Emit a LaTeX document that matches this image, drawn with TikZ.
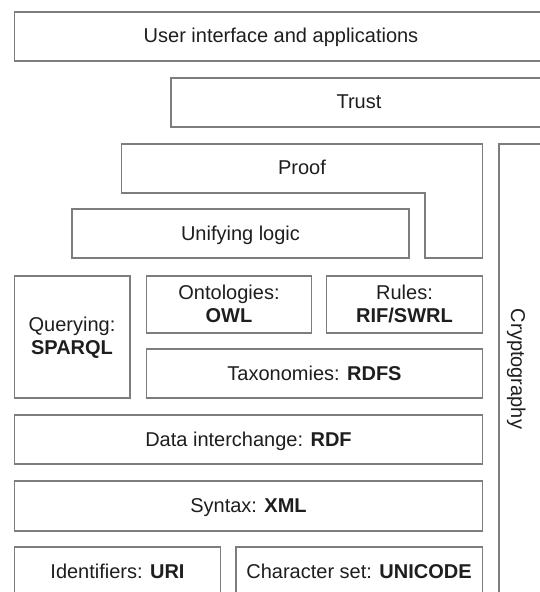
\documentclass[tikz,border=0pt]{standalone}
\usepackage{fontspec}
\setmainfont{Liberation Sans}
\definecolor{edge}{RGB}{125,125,125}
\definecolor{ink}{RGB}{30,30,30}
\begin{document}
\begin{tikzpicture}[x=1pt,y=-1pt,
  box/.style={draw=edge, line width=1.2pt, fill=white},
  lbl/.style={font=\fontsize{20}{23.5}\selectfont, text=ink, inner sep=0pt, anchor=base, align=center}]
\useasboundingbox (0,0) rectangle (540,592);
\clip (0,0) rectangle (540,592);
% top layers
\draw[box] (14.5,12) rectangle (547,61);
\node[lbl] (ui) at (281,42.5) {User interface and applications};
\draw[box] (171,78) rectangle (547,127);
\node[lbl] (trust) at (359,108.5) {Trust};
\draw[box] (121.5,144) -- (482.5,144) -- (482.5,258) -- (425,258) -- (425,193) -- (121.5,193) -- cycle;
\node[lbl] (proof) at (302,174.5) {Proof};
% cryptography column
\draw[box] (499,144) rectangle (560,610);
\node[lbl, rotate=-90] (crypto) at (511,369) {Cryptography};
% logic
\draw[box] (72,209) rectangle (409,258);
\node[lbl] (unify) at (240.5,240) {Unifying logic};
% query / ontologies / rules
\draw[box] (14.5,276) rectangle (130,398);
\node[lbl] (query) at (72,354.5) {Querying:\\\textbf{SPARQL}};
\draw[box] (146.5,276) rectangle (311.5,333);
\node[lbl] (onto) at (229,322.5) {Ontologies:\\\textbf{OWL}};
\draw[box] (326.5,276) rectangle (482.5,333);
\node[lbl] (rules) at (404.5,322.5) {Rules:\\\textbf{RIF/SWRL}};
\draw[box] (146.5,349) rectangle (482.5,398);
\node[lbl] (rdfs) at (314.5,380) {Taxonomies: \textbf{RDFS}};
% lower layers
\draw[box] (14.5,415) rectangle (482.5,464);
\node[lbl] (rdf) at (248.5,446) {Data interchange: \textbf{RDF}};
\draw[box] (14.5,481) rectangle (482.5,531);
\node[lbl] (xml) at (248.5,512.5) {Syntax: \textbf{XML}};
\draw[box] (14.5,547) rectangle (220.5,596);
\node[lbl] (uri) at (117.5,578) {Identifiers: \textbf{URI}};
\draw[box] (236,547) rectangle (482.5,596);
\node[lbl] (unicode) at (359,578) {Character set: \textbf{UNICODE}};
\end{tikzpicture}
\end{document}
